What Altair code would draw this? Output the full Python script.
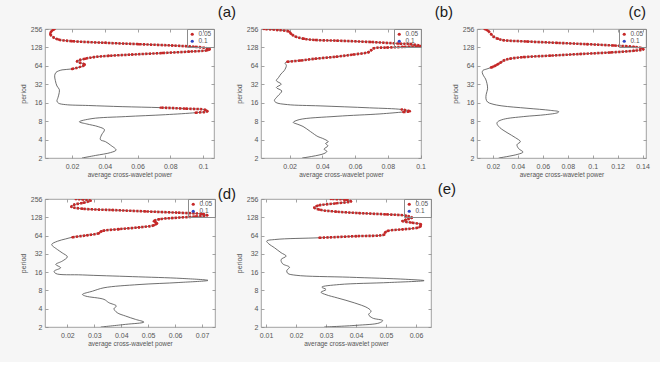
import altair as alt
import pandas as pd

FONT = "Liberation Sans"
RED = "#c62828"
BLUE = "#2f45c4"
CURVE = "#4a4a4a"
FRAME = "#8c8c8c"
TEXT = "#555555"

PERIOD_TICKS = [2, 4, 8, 16, 32, 64, 128, 256]
SIG_LEVELS = ["0.05", "0.1"]
X_TITLE = "average cross-wavelet power"

# (a)
A_PERIOD = [2, 2.2, 2.45, 2.7, 3.25, 3.7, 4.0, 4.75, 5.8, 6.5,
            7.2, 7.8, 8.8, 9.5, 10.2, 11.0, 11.6, 12.2, 12.8, 13.3,
            13.8, 14.4, 14.9, 15.7, 17.0, 19.3, 23.4, 26.5, 30, 37,
            44, 50, 55, 57, 66.6, 75.8, 83.8, 88.9, 93.3, 97.9,
            103.6, 109.3, 115, 119.4, 124.3, 130.7, 137.5, 144.7, 152.2, 162,
            172, 186, 212, 240, 256]
A_POWER = [0.0261, 0.0343, 0.0435, 0.0469, 0.0435, 0.0404, 0.0373, 0.0380, 0.0398, 0.0360,
           0.0290, 0.0245, 0.0322, 0.0527, 0.0771, 0.0955, 0.1026, 0.1016, 0.0894, 0.0741,
           0.0506, 0.0302, 0.0159, 0.0118, 0.0108, 0.0114, 0.0122, 0.0122, 0.0108, 0.0098,
           0.0094, 0.0102, 0.0139, 0.0200, 0.0278, 0.0231, 0.0282, 0.0333, 0.0424, 0.0567,
           0.0751, 0.0914, 0.1026, 0.1040, 0.1026, 0.0955, 0.0812, 0.0608, 0.0404, 0.0200,
           0.0118, 0.0088, 0.0067, 0.0078, 0.0094]
A_SIG = [(11.0, 13.3), (57, 256)]
A_TICKS = [0.02, 0.04, 0.06, 0.08, 0.1]
A_DOMAIN = [0.0035, 0.1067]

# (b)
B_PERIOD = [2, 2.36, 2.58, 2.79, 3.16, 3.46, 3.69, 4.2, 4.47, 5.39,
            6.55, 7.16, 7.62, 8.46, 9.6, 10.5, 11.3, 11.6, 12.4, 13.2,
            14.2, 14.9, 16.1, 17.4, 20.5, 24.9, 28.3, 32.2, 36.6, 41.5,
            47.2, 53.5, 65, 71, 74.5, 78.3, 83.8, 90.4, 98, 107,
            115, 124.3, 127.4, 130.7, 135, 145, 148, 157, 165, 169,
            177, 192, 212, 232, 247, 256]
B_POWER = [0.0277, 0.0410, 0.0428, 0.0410, 0.0434, 0.0420, 0.0436, 0.0400, 0.0373, 0.0328,
           0.0282, 0.0246, 0.0222, 0.0258, 0.0490, 0.0752, 0.0895, 0.0935, 0.0885, 0.0688,
           0.0386, 0.0187, 0.0117, 0.0107, 0.0127, 0.0152, 0.0119, 0.0149, 0.0119, 0.0133,
           0.0147, 0.0167, 0.0180, 0.0172, 0.0186, 0.0268, 0.0358, 0.0487, 0.0589, 0.0681,
           0.0698, 0.0715, 0.0796, 0.0898, 0.1000, 0.0939, 0.0867, 0.0694, 0.0491, 0.0359,
           0.0288, 0.0237, 0.0210, 0.0196, 0.0125, 0.0043]
B_SIG = [(11.3, 12.4), (74.5, 256)]
B_TICKS = [0.02, 0.04, 0.06, 0.08, 0.1]
B_DOMAIN = [0.0025, 0.1003]

# (c)
C_PERIOD = [2, 2.3, 2.5, 2.85, 3.3, 3.7, 4.3, 5.2, 6.3, 7.3,
            7.8, 8.6, 9.5, 10.2, 11.0, 11.4, 12.0, 13.0, 14.2, 15.3,
            16.4, 18.5, 22, 27, 33, 39, 44, 50, 54, 57,
            60, 62.5, 66.6, 72, 78, 84, 89, 94, 100, 106,
            113, 119.4, 124.3, 130.7, 137.5, 144.7, 152, 160, 168, 177,
            192, 212, 240, 256]
C_POWER = [0.0246, 0.0400, 0.0441, 0.0406, 0.0393, 0.0420, 0.0380, 0.0313, 0.0254, 0.0232,
           0.0238, 0.0286, 0.0447, 0.0621, 0.0720, 0.0728, 0.0661, 0.0473, 0.0272, 0.0192,
           0.0157, 0.0144, 0.0146, 0.0157, 0.0152, 0.0141, 0.0125, 0.0114, 0.0120, 0.0152,
           0.0184, 0.0205, 0.0232, 0.0259, 0.0286, 0.0339, 0.0447, 0.0661, 0.0902, 0.1143,
           0.1331, 0.1406, 0.1398, 0.1331, 0.1170, 0.0956, 0.0715, 0.0473, 0.0286, 0.0240,
           0.0205, 0.0184, 0.0160, 0.0133]
C_SIG = [(60, 256)]
C_TICKS = [0.02, 0.04, 0.06, 0.08, 0.1, 0.12, 0.14]
C_DOMAIN = [0.0072, 0.1428]

# (d)
D_PERIOD = [2, 2.21, 2.41, 2.67, 3.03, 3.44, 4.0, 4.43, 5.03, 5.7,
            6.45, 6.87, 7.77, 8.85, 10.0, 10.8, 11.7, 12.6, 13.5, 14.4,
            15.2, 16.6, 18.9, 21.4, 24.3, 28.6, 33.2, 37.7, 45.6, 51.6,
            56.4, 60.1, 64.9, 70, 75.6, 81.6, 87.4, 94.4, 101.8, 110,
            118.6, 124.5, 131.6, 138.2, 145, 152, 160, 168.5, 177, 191,
            206, 222, 240, 256]
D_POWER = [0.0324, 0.0416, 0.0484, 0.0453, 0.0416, 0.0385, 0.0373, 0.0382, 0.0354, 0.0336,
           0.0268, 0.0256, 0.0293, 0.0336, 0.0466, 0.0614, 0.0722, 0.0626, 0.0441, 0.0256,
           0.0157, 0.0151, 0.0175, 0.0157, 0.0181, 0.0200, 0.0181, 0.0163, 0.0142, 0.0163,
           0.0194, 0.0219, 0.0274, 0.0317, 0.0327, 0.0391, 0.0466, 0.0521, 0.0533, 0.0521,
           0.0540, 0.0589, 0.0675, 0.0719, 0.0700, 0.0614, 0.0490, 0.0367, 0.0256, 0.0215,
           0.0225, 0.0260, 0.0286, 0.0231]
D_SIG = [(60.1, 256)]
D_TICKS = [0.02, 0.03, 0.04, 0.05, 0.06, 0.07]
D_DOMAIN = [0.0117, 0.0748]

# (e)
E_PERIOD = [2, 2.13, 2.33, 2.55, 2.81, 3.2, 3.63, 4.11, 5.0, 6.0,
            6.8, 7.46, 8.28, 9.06, 10.0, 10.8, 11.6, 12.2, 13.2, 14.2,
            15.3, 17, 19.3, 22, 25.8, 29.4, 33.4, 40.3, 46.8, 52,
            55.3, 58.9, 62.6, 66.7, 71.6, 76.3, 81, 86.3, 91.9, 97.6,
            104, 111, 116.8, 126, 136, 143, 150, 158.6, 171, 185,
            199, 217, 234, 249, 256]
E_POWER = [0.0294, 0.0400, 0.0477, 0.0489, 0.0455, 0.0442, 0.0450, 0.0439, 0.0394, 0.0339,
           0.0300, 0.0283, 0.0300, 0.0286, 0.0344, 0.0511, 0.0627, 0.0566, 0.0378, 0.0200,
           0.0172, 0.0169, 0.0178, 0.0155, 0.0150, 0.0167, 0.0150, 0.0128, 0.0109, 0.0102,
           0.0133, 0.0278, 0.0400, 0.0494, 0.0497, 0.0505, 0.0555, 0.0605, 0.0616, 0.0616,
           0.0588, 0.0555, 0.0566, 0.0586, 0.0566, 0.0500, 0.0411, 0.0333, 0.0278, 0.0261,
           0.0272, 0.0333, 0.0383, 0.0366, 0.0316]
E_SIG = [(58.9, 256)]
E_TICKS = [0.01, 0.02, 0.03, 0.04, 0.05, 0.06]
E_DOMAIN = [0.0083, 0.0650]


def build_frame(period, power, sig_ranges):
    df = pd.DataFrame({"period": period, "power": power})
    df["idx"] = range(len(df))
    df["sig"] = [any(lo <= p <= hi for lo, hi in sig_ranges) for p in period]
    # each run of consecutive significant scales is drawn as its own segment
    df["seg"] = (df["sig"] != df["sig"].shift()).cumsum()
    df["level"] = SIG_LEVELS[0]
    return df


def panel(label, period, power, sig_ranges, xticks, xdomain, width, height, dx, dy):
    df = build_frame(period, power, sig_ranges)
    x = alt.X(
        "power:Q",
        scale=alt.Scale(domain=xdomain, nice=False, zero=False),
        axis=alt.Axis(
            values=xticks, format="~g", title=X_TITLE,
            titleFont=FONT, titleFontSize=6.5, titleFontWeight="normal",
            titleColor=TEXT, titlePadding=2,
            labelFont=FONT, labelFontSize=7, labelColor=TEXT, labelPadding=4,
            labelFlush=False, labelOverlap=False,
            domain=False, tickSize=0,
            grid=True, gridColor=FRAME, gridWidth=0.8,
            gridDash=[3, height - 6, 3, 1000],
        ),
    )
    y = alt.Y(
        "period:Q",
        scale=alt.Scale(type="log", base=2, domain=[2, 256], nice=False),
        axis=alt.Axis(
            values=PERIOD_TICKS, format="d", title="period",
            titleFont=FONT, titleFontSize=7, titleFontWeight="normal",
            titleColor=TEXT, titlePadding=4,
            labelFont=FONT, labelFontSize=7, labelColor=TEXT, labelPadding=3,
            labelFlush=False, labelOverlap=False,
            domain=False, tickSize=0,
            grid=True, gridColor=FRAME, gridWidth=0.8,
            gridDash=[3, width - 6, 3, 1000],
        ),
    )
    base = alt.Chart(df).encode(x=x, y=y, order="idx:Q")
    curve = base.mark_line(color=CURVE, strokeWidth=0.8,
                           interpolate="catmull-rom", clip=True)
    sig_line = base.transform_filter("datum.sig").mark_line(
        color=RED, strokeWidth=2.6, strokeDash=[2.2, 1.3],
        interpolate="catmull-rom", clip=True,
    ).encode(detail="seg:N")
    sig_dots = base.transform_filter("datum.sig").mark_circle(
        size=6, opacity=1, clip=True
    ).encode(
        color=alt.Color(
            "level:N",
            scale=alt.Scale(domain=SIG_LEVELS, range=[RED, BLUE]),
            legend=alt.Legend(
                orient="top-right", title=None, offset=0, padding=2,
                strokeColor=FRAME, symbolType="circle", symbolSize=10,
                labelFont=FONT, labelFontSize=6.5, labelColor=TEXT,
                labelOffset=3, rowPadding=0,
            ),
        )
    )
    return alt.layer(curve, sig_line, sig_dots).properties(
        width=width,
        height=height,
        title=alt.TitleParams(
            text=label, anchor="end", frame="group", dx=dx, dy=dy, offset=7,
            font=FONT, fontSize=15, fontWeight="normal", color="#1a1a1a",
        ),
    )


pa = panel("(a)", A_PERIOD, A_POWER, A_SIG, A_TICKS, A_DOMAIN, 169, 129, 22, 2)
pb = panel("(b)", B_PERIOD, B_POWER, B_SIG, B_TICKS, B_DOMAIN, 160, 129, 32, 2)
pc = panel("(c)", C_PERIOD, C_POWER, C_SIG, C_TICKS, C_DOMAIN, 169, 129, 0, 2)
pd_ = panel("(d)", D_PERIOD, D_POWER, D_SIG, D_TICKS, D_DOMAIN, 170, 128, 21, 14)
pe = panel("(e)", E_PERIOD, E_POWER, E_SIG, E_TICKS, E_DOMAIN, 170, 128, 25, 9)

# three panels on the first row, two on the second; plot areas are laid out
# edge to edge so axes and titles do not push the panels around
chart = alt.concat(
    pa, pb, pc, pd_, pe,
    columns=3,
    spacing={"row": 41, "column": 46},
    bounds="flush",
    align="none",
).resolve_scale(
    x="independent", y="independent", color="independent"
).properties(
    background="#f6f6f6",
    padding={"left": 18, "top": 4, "right": 10, "bottom": 15},
).configure_view(fill="white", stroke=FRAME, strokeWidth=0.8)

chart.save("out.html", embed_options={"renderer": "svg", "actions": False})
